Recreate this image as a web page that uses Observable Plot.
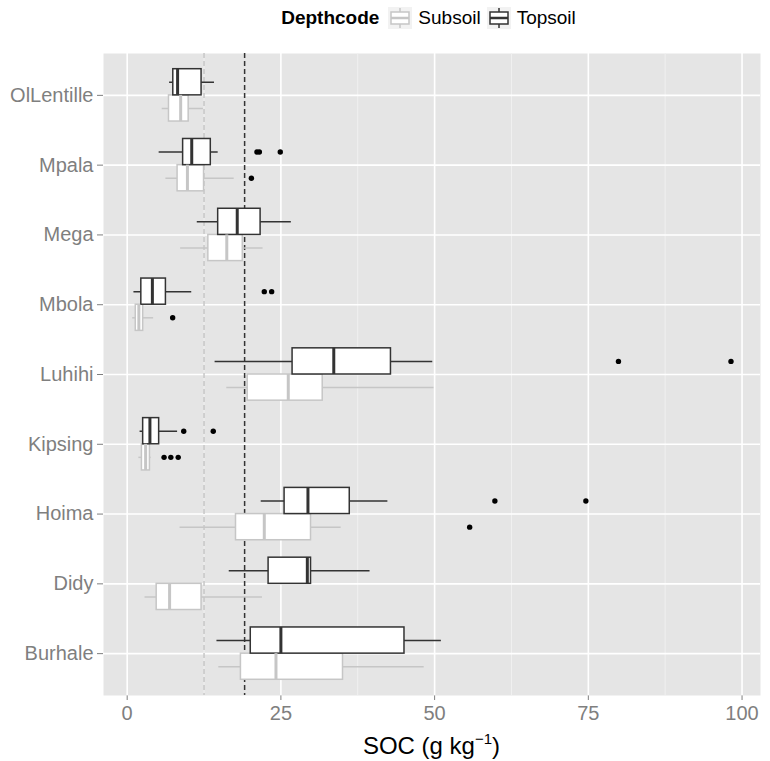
<!DOCTYPE html>
<html><head><meta charset="utf-8">
<script src="https://cdn.jsdelivr.net/npm/d3@7"></script>
<script src="https://cdn.jsdelivr.net/npm/@observablehq/plot@0.6"></script>
<style>
body{margin:0;background:#fff;font-family:"Liberation Sans",Arial,sans-serif;}
#legend{height:36px;margin-bottom:4px;margin-left:103px;width:657px;display:flex;justify-content:center;align-items:center;font-size:19px;color:#000;}
#legend b{margin-right:9px;}
#legend span.lab{margin:0 6px 0 6px;}
#legend svg{display:block;}
#title{height:31px;line-height:31px;margin-left:103px;width:657px;text-align:center;font-size:24px;color:#000;}
#title sup{font-size:15px;vertical-align:10px;line-height:0;}
</style></head><body>
<div id="legend"></div>
<div id="chart"></div>
<div id="title">SOC (g kg<sup>−1</sup>)</div>
<script>
// Sites, bottom to top
const sites = ["Burhale","Didy","Hoima","Kipsing","Luhihi","Mbola","Mega","Mpala","OlLentille"];
const depths = ["Subsoil","Topsoil"];
const depthColors = ["#c6c6c6","#333333"];

// Topsoil box stats [lower whisker, q1, median, q3, upper whisker]
const topLo  = [14.6, 16.6, 21.8, 2.1, 14.3, 1.1, 11.4, 5.2, 6.9];
const topQ1  = [20.1, 23.0, 25.6, 2.6, 26.9, 2.3, 14.8, 9.1, 7.5];
const topMed = [25.0, 29.3, 29.4, 3.7, 33.6, 4.1, 17.9, 10.5, 8.2];
const topQ3  = [45.1, 29.9, 36.2, 5.2, 42.9, 6.3, 21.7, 13.6, 12.1];
const topHi  = [51.1, 39.5, 42.4, 8.2, 49.7, 10.5, 26.7, 14.8, 14.2];

// Subsoil box stats
const subLo  = [14.9, 2.9, 8.6, 1.9, 16.2, 0.9, 8.7, 6.3, 5.7];
const subQ1  = [18.5, 4.8, 17.7, 2.4, 19.6, 1.4, 13.2, 8.2, 6.8];
const subMed = [24.2, 6.9, 22.3, 3.0, 26.2, 1.9, 16.2, 9.8, 8.7];
const subQ3  = [35.1, 12.1, 29.9, 3.7, 31.8, 2.6, 18.8, 12.5, 10.0];
const subHi  = [48.3, 22.0, 34.8, 3.9, 49.9, 4.3, 22.1, 17.4, 12.4];

// Outliers
const outSite  = ["Mpala","Mpala","Mpala","Mbola","Mbola","Luhihi","Luhihi","Kipsing","Kipsing","Hoima","Hoima",
                  "Mpala","Mbola","Kipsing","Kipsing","Kipsing","Hoima"];
const outDepth = ["Topsoil","Topsoil","Topsoil","Topsoil","Topsoil","Topsoil","Topsoil","Topsoil","Topsoil","Topsoil","Topsoil",
                  "Subsoil","Subsoil","Subsoil","Subsoil","Subsoil","Subsoil"];
const outValue = [21.1, 21.5, 24.9, 22.3, 23.5, 79.9, 98.2, 9.2, 14.0, 59.8, 74.6,
                  20.2, 7.4, 6.0, 7.1, 8.3, 55.7];

// Reference lines (mean SOC): Subsoil, Topsoil
const refValues = [12.5, 19.1];

const xTicks = [0, 25, 50, 75, 100];
const xMinor = [12.5, 37.5, 62.5, 87.5];

// ---- build tables (dodged positions like position_dodge) ----
const half = 0.375;
const pos = s => sites.indexOf(s) + 1;
const boxes = [];
sites.forEach((s, i) => {
  boxes.push({site: s, depth: "Subsoil", lo: subLo[i], q1: subQ1[i], med: subMed[i], q3: subQ3[i], hi: subHi[i]});
});
sites.forEach((s, i) => {
  boxes.push({site: s, depth: "Topsoil", lo: topLo[i], q1: topQ1[i], med: topMed[i], q3: topQ3[i], hi: topHi[i]});
});
const dodgeY1 = d => pos(d.site) + (d.depth === "Topsoil" ? 0 : -half);
const dodgeY2 = d => pos(d.site) + (d.depth === "Topsoil" ? half : 0);
const dodgeMid = d => pos(d.site) + (d.depth === "Topsoil" ? half / 2 : -half / 2);
const outliers = outValue.map((v, i) => ({site: outSite[i], depth: outDepth[i], v}));
const refs = depths.map((d, i) => ({depth: d, v: refValues[i]}));

const chart = Plot.plot({
  width: 770, height: 690,
  marginLeft: 103, marginRight: 10, marginTop: 13, marginBottom: 35,
  style: {fontFamily: "'Liberation Sans', Arial, sans-serif", fontSize: "20px", color: "#7f7f7f", background: "white", overflow: "visible"},
  x: {domain: [-3.85, 103], ticks: xTicks, tickSize: 5, tickPadding: 5, label: null},
  y: {domain: [0.4, 9.6], ticks: sites.map((s, i) => i + 1), tickFormat: v => sites[v - 1], tickSize: 6, tickPadding: 4, label: null},
  color: {domain: depths, range: depthColors},
  marks: [
    Plot.frame({fill: "#e5e5e5", stroke: null}),
    Plot.ruleX(xMinor, {stroke: "#f0f0f0", strokeWidth: 1}),
    Plot.ruleX(xTicks, {stroke: "white", strokeWidth: 1.6}),
    Plot.ruleY(sites.map((s, i) => i + 1), {stroke: "white", strokeWidth: 1.6}),
    Plot.ruleX(refs, {x: "v", stroke: "depth", strokeDasharray: "5,3", strokeWidth: 1.5}),
    Plot.ruleY(boxes, {y: dodgeMid, x1: "lo", x2: "hi", stroke: "depth", strokeWidth: 1.5}),
    Plot.rect(boxes, {x1: "q1", x2: "q3", y1: dodgeY1, y2: dodgeY2, fill: "white", stroke: "depth", strokeWidth: 1.5}),
    Plot.ruleX(boxes, {x: "med", y1: dodgeY1, y2: dodgeY2, stroke: "depth", strokeWidth: 3}),
    Plot.dot(outliers, {x: "v", y: dodgeMid, r: 2.7, fill: "black", stroke: null})
  ]
});
document.getElementById("chart").appendChild(chart);

// ---- legend ----
const legend = document.getElementById("legend");
const title = document.createElement("b");
title.textContent = "Depthcode";
legend.appendChild(title);
depths.forEach((d, i) => {
  const c = depthColors[i];
  const key = document.createElementNS("http://www.w3.org/2000/svg", "svg");
  key.setAttribute("width", 24); key.setAttribute("height", 22);
  key.innerHTML = `<rect x="0" y="0" width="24" height="22" fill="#f2f2f2"/>
    <line x1="12" y1="1" x2="12" y2="21" stroke="${c}" stroke-width="1.5"/>
    <rect x="3" y="5" width="18" height="12" fill="white" stroke="${c}" stroke-width="1.5"/>
    <line x1="3" y1="11" x2="21" y2="11" stroke="${c}" stroke-width="2.5"/>`;
  legend.appendChild(key);
  const lab = document.createElement("span");
  lab.className = "lab";
  lab.textContent = d;
  legend.appendChild(lab);
});
</script>
</body></html>
